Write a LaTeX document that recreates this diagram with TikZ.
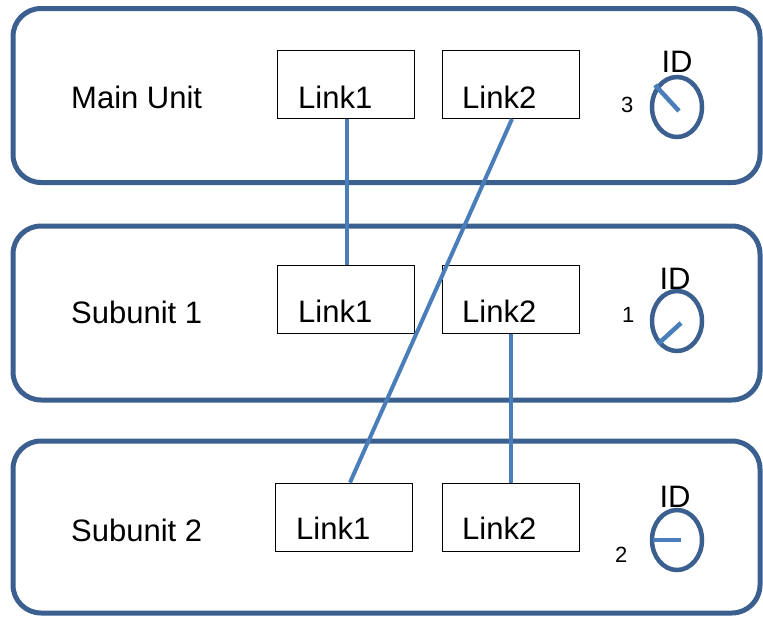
\documentclass[tikz,border=0pt]{standalone}
\usepackage{fontspec}
\setmainfont{Liberation Sans}
\usetikzlibrary{shapes.geometric}
\definecolor{frameblue}{HTML}{3B5F8F}
\definecolor{wireblue}{HTML}{4A7EBB}
\tikzset{
  unitbox/.style={draw=frameblue, line width=5pt, rounded corners=28pt, inner sep=0pt},
  linkbox/.style={draw=black, line width=1pt, inner sep=0pt, minimum width=137pt, minimum height=68pt},
  bigtxt/.style={inner sep=0pt, anchor=base west, font=\fontsize{31}{37}\selectfont},
  idtxt/.style={inner sep=0pt, anchor=base, font=\fontsize{31}{37}\selectfont},
  numtxt/.style={inner sep=0pt, anchor=base west, font=\fontsize{22}{26}\selectfont},
  dial/.style={draw=frameblue, line width=4.5pt, ellipse, minimum width=50pt, minimum height=60pt, inner sep=0pt},
  needle/.style={draw=wireblue, line width=4.5pt},
  wire/.style={draw=wireblue, line width=4pt}
}
\begin{document}
\begin{tikzpicture}[x=1pt,y=-1pt]
\useasboundingbox (0,0) rectangle (763,616);
% unit frames
\node[unitbox, minimum width=747pt, minimum height=174pt] (mu) at (386.5,95.5) {};
\node[unitbox, minimum width=747pt, minimum height=174pt] (su1) at (386.5,313) {};
\node[unitbox, minimum width=747pt, minimum height=172pt] (su2) at (386.5,527) {};
% unit names
\node[bigtxt] (tmu) at (71,108) {Main Unit};
\node[bigtxt] (tsu1) at (71,323) {Subunit 1};
\node[bigtxt] (tsu2) at (71,541) {Subunit 2};
% link boxes
\node[linkbox] (m1) at (345.5,84.5) {};
\node[linkbox] (m2) at (510.5,84.5) {};
\node[linkbox] (a1) at (345.5,299) {};
\node[linkbox] (a2) at (510.5,299) {};
\node[linkbox] (b1) at (343.5,517) {};
\node[linkbox] (b2) at (510.5,517) {};
\node[bigtxt] (tm1) at (298,108) {Link1};
\node[bigtxt] (tm2) at (462,108) {Link2};
\node[bigtxt] (ta1) at (298,322) {Link1};
\node[bigtxt] (ta2) at (462,322) {Link2};
\node[bigtxt] (tb1) at (296,539) {Link1};
\node[bigtxt] (tb2) at (462,539) {Link2};
% wires
\draw[wire] ([xshift=1.5pt]m1.south) -- ([xshift=1.5pt]a1.north);
\draw[wire] ([xshift=1.5pt]m2.south) -- ([xshift=6.5pt]b1.north);
\draw[wire] (a2.south) -- (b2.north);
% ID dials
\node[dial] (d0) at (677,107) {};
\node[dial] (d1) at (677,321) {};
\node[dial] (d2) at (677,540) {};
\coordinate (n0a) at (655,85);
\coordinate (n0b) at (679,111);
\coordinate (n1a) at (658,344);
\coordinate (n1b) at (681,323);
\coordinate (n2a) at (653,540);
\coordinate (n2b) at (681,540);
\draw[needle] (n0a) -- (n0b);
\draw[needle] (n1a) -- (n1b);
\draw[needle] (n2a) -- (n2b);
\node[idtxt] (id0) at (677,72) {ID};
\node[idtxt] (id1) at (675,289) {ID};
\node[idtxt] (id2) at (675,507) {ID};
\node[numtxt] (k0) at (621,112) {3};
\node[numtxt] (k1) at (622,322) {1};
\node[numtxt] (k2) at (615,562) {2};
\end{tikzpicture}
\end{document}
